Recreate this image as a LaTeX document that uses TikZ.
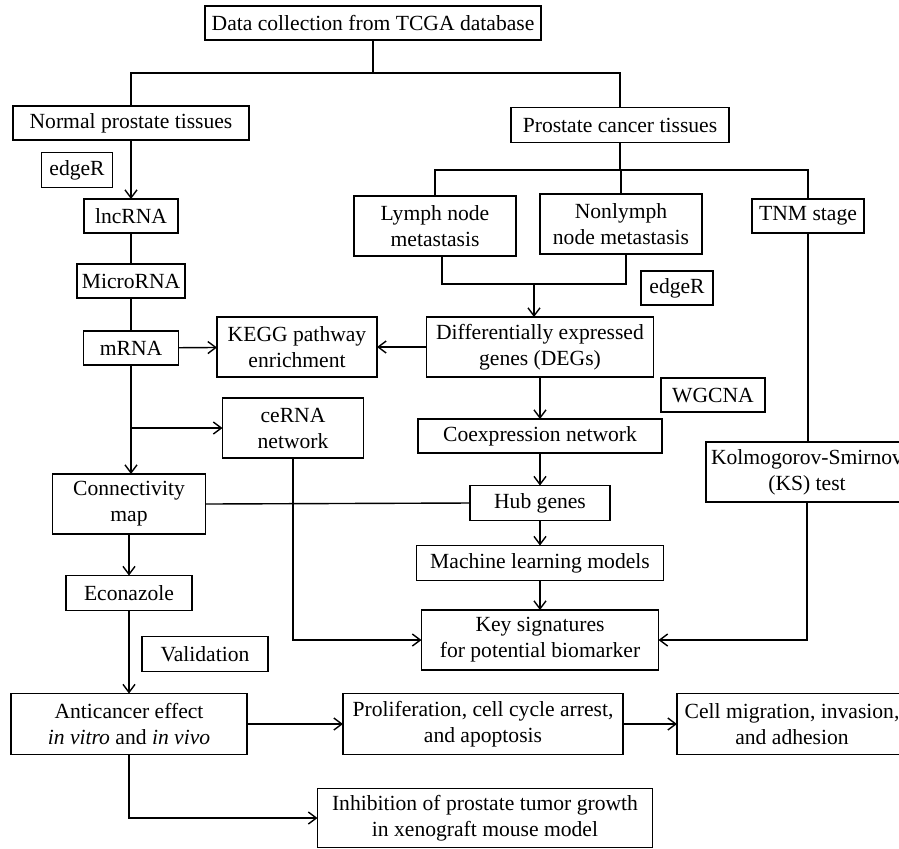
\documentclass[tikz,border=0pt]{standalone}
\usepackage{fontspec}
\setmainfont{Liberation Serif}
\usetikzlibrary{arrows.meta}
\begin{document}
\begin{tikzpicture}[x=0.5pt,y=-0.5pt,
  box/.style={draw, line width=0.7pt, inner sep=0pt, outer sep=0pt, align=center,
    font=\fontsize{10.8pt}{13pt}\selectfont},
  conn/.style={line width=0.7pt},
  arr/.style={conn, -{Straight Barb[length=4pt,width=6pt,line width=0.7pt]}}]
\useasboundingbox (0,0) rectangle (899,848);
\newcommand{\bx}[6]{\node[box, minimum width=#4*0.5pt, minimum height=#5*0.5pt] (#1) at (#2,#3) {#6};}
\bx{data}{373}{23}{336}{34}{Data collection from TCGA database}
\bx{normal}{131}{123}{236}{34}{Normal prostate tissues}
\bx{cancer}{620}{125}{218}{35}{Prostate cancer tissues}
\bx{edgeA}{77}{170}{71}{35}{edgeR}
\bx{lnc}{131}{216}{94}{34}{lncRNA}
\bx{micro}{131}{281}{108}{34}{MicroRNA}
\bx{mrna}{131}{348}{95}{34}{mRNA}
\bx{kegg}{297}{347}{160}{60}{KEGG pathway\\enrichment}
\bx{degs}{540}{347}{227}{60}{Differentially expressed\\genes (DEGs)}
\bx{cerna}{293}{428}{141}{60}{ceRNA\\network}
\bx{cmap}{129}{504}{153}{60}{Connectivity\\map}
\bx{coexp}{540}{436}{244}{34}{Coexpression network}
\bx{hub}{540}{503}{140}{35}{Hub genes}
\bx{mlm}{540}{563}{247}{35}{Machine learning models}
\bx{key}{540}{640}{237}{60}{Key signatures\\for potential biomarker}
\bx{ks}{807}{472}{202}{60}{Kolmogorov-Smirnov\\(KS) test}
\bx{tnm}{808}{216}{112}{34}{TNM stage}
\bx{lymph}{435}{226}{162}{60}{Lymph node\\metastasis}
\bx{nonlymph}{621}{224}{162}{60}{Nonlymph\\node metastasis}
\bx{edgeB}{677}{288}{72}{34}{edgeR}
\bx{wgcna}{713}{395}{104}{34}{WGCNA}
\bx{econ}{129}{593}{126}{35}{Econazole}
\bx{valid}{205}{654}{126}{35}{Validation}
\bx{anti}{129}{724}{236}{61}{Anticancer effect\\\textit{in vitro} and \textit{in vivo}}
\bx{prolif}{483}{724}{280}{61}{Proliferation, cell cycle arrest,\\and apoptosis}
\bx{cellmig}{792}{724}{230}{61}{Cell migration, invasion,\\and adhesion}
\bx{inhib}{485}{818}{335}{59}{Inhibition of prostate tumor growth\\in xenograft mouse model}
% top split
\coordinate (j1) at (373,73);
\draw[conn] (data.south) -- (j1);
\draw[conn] (normal.north) |- (j1) -| (cancer.north);
% left column
\draw[arr] (normal) -- (lnc);
\draw[conn] (lnc) -- (micro);
\draw[conn] (micro) -- (mrna);
\draw[arr] (mrna) -- (kegg);
\draw[arr] (degs) -- (kegg);
\draw[arr] (mrna.south) -- (mrna.south |- cmap.north);
\draw[arr] (mrna.south |- cerna.west) -- (cerna.west);
\draw[conn] (cmap.east) -- (hub.west);
\draw[arr] (cerna.south) |- (key.west);
% cancer branch
\coordinate (j3) at (620,170);
\draw[conn] (cancer.south) -- (j3);
\draw[conn] (lymph.north) |- (j3) -| (tnm.north);
\draw[conn] (nonlymph.north) -- (nonlymph.north |- j3);
\coordinate (ml) at (442,284);
\coordinate (mr) at (626,284);
\coordinate (m) at (534,284);
\draw[conn] (lymph.south -| ml) -- (ml) -- (mr) -- (nonlymph.south -| mr);
\draw[arr] (m) -- (m |- degs.north);
\draw[arr] (degs) -- (coexp);
\draw[arr] (coexp) -- (hub);
\draw[arr] (hub) -- (mlm);
\draw[arr] (mlm) -- (key);
\draw[conn] (tnm.south) -- (tnm.south |- ks.north);
\draw[arr] (ks.south) |- (key.east);
% lower
\draw[arr] (cmap) -- (econ);
\draw[arr] (econ.south) -- (econ.south |- anti.north);
\draw[arr] (anti) -- (prolif);
\draw[arr] (prolif) -- (cellmig);
\draw[arr] (anti.south) |- (inhib.west);
\end{tikzpicture}
\end{document}
